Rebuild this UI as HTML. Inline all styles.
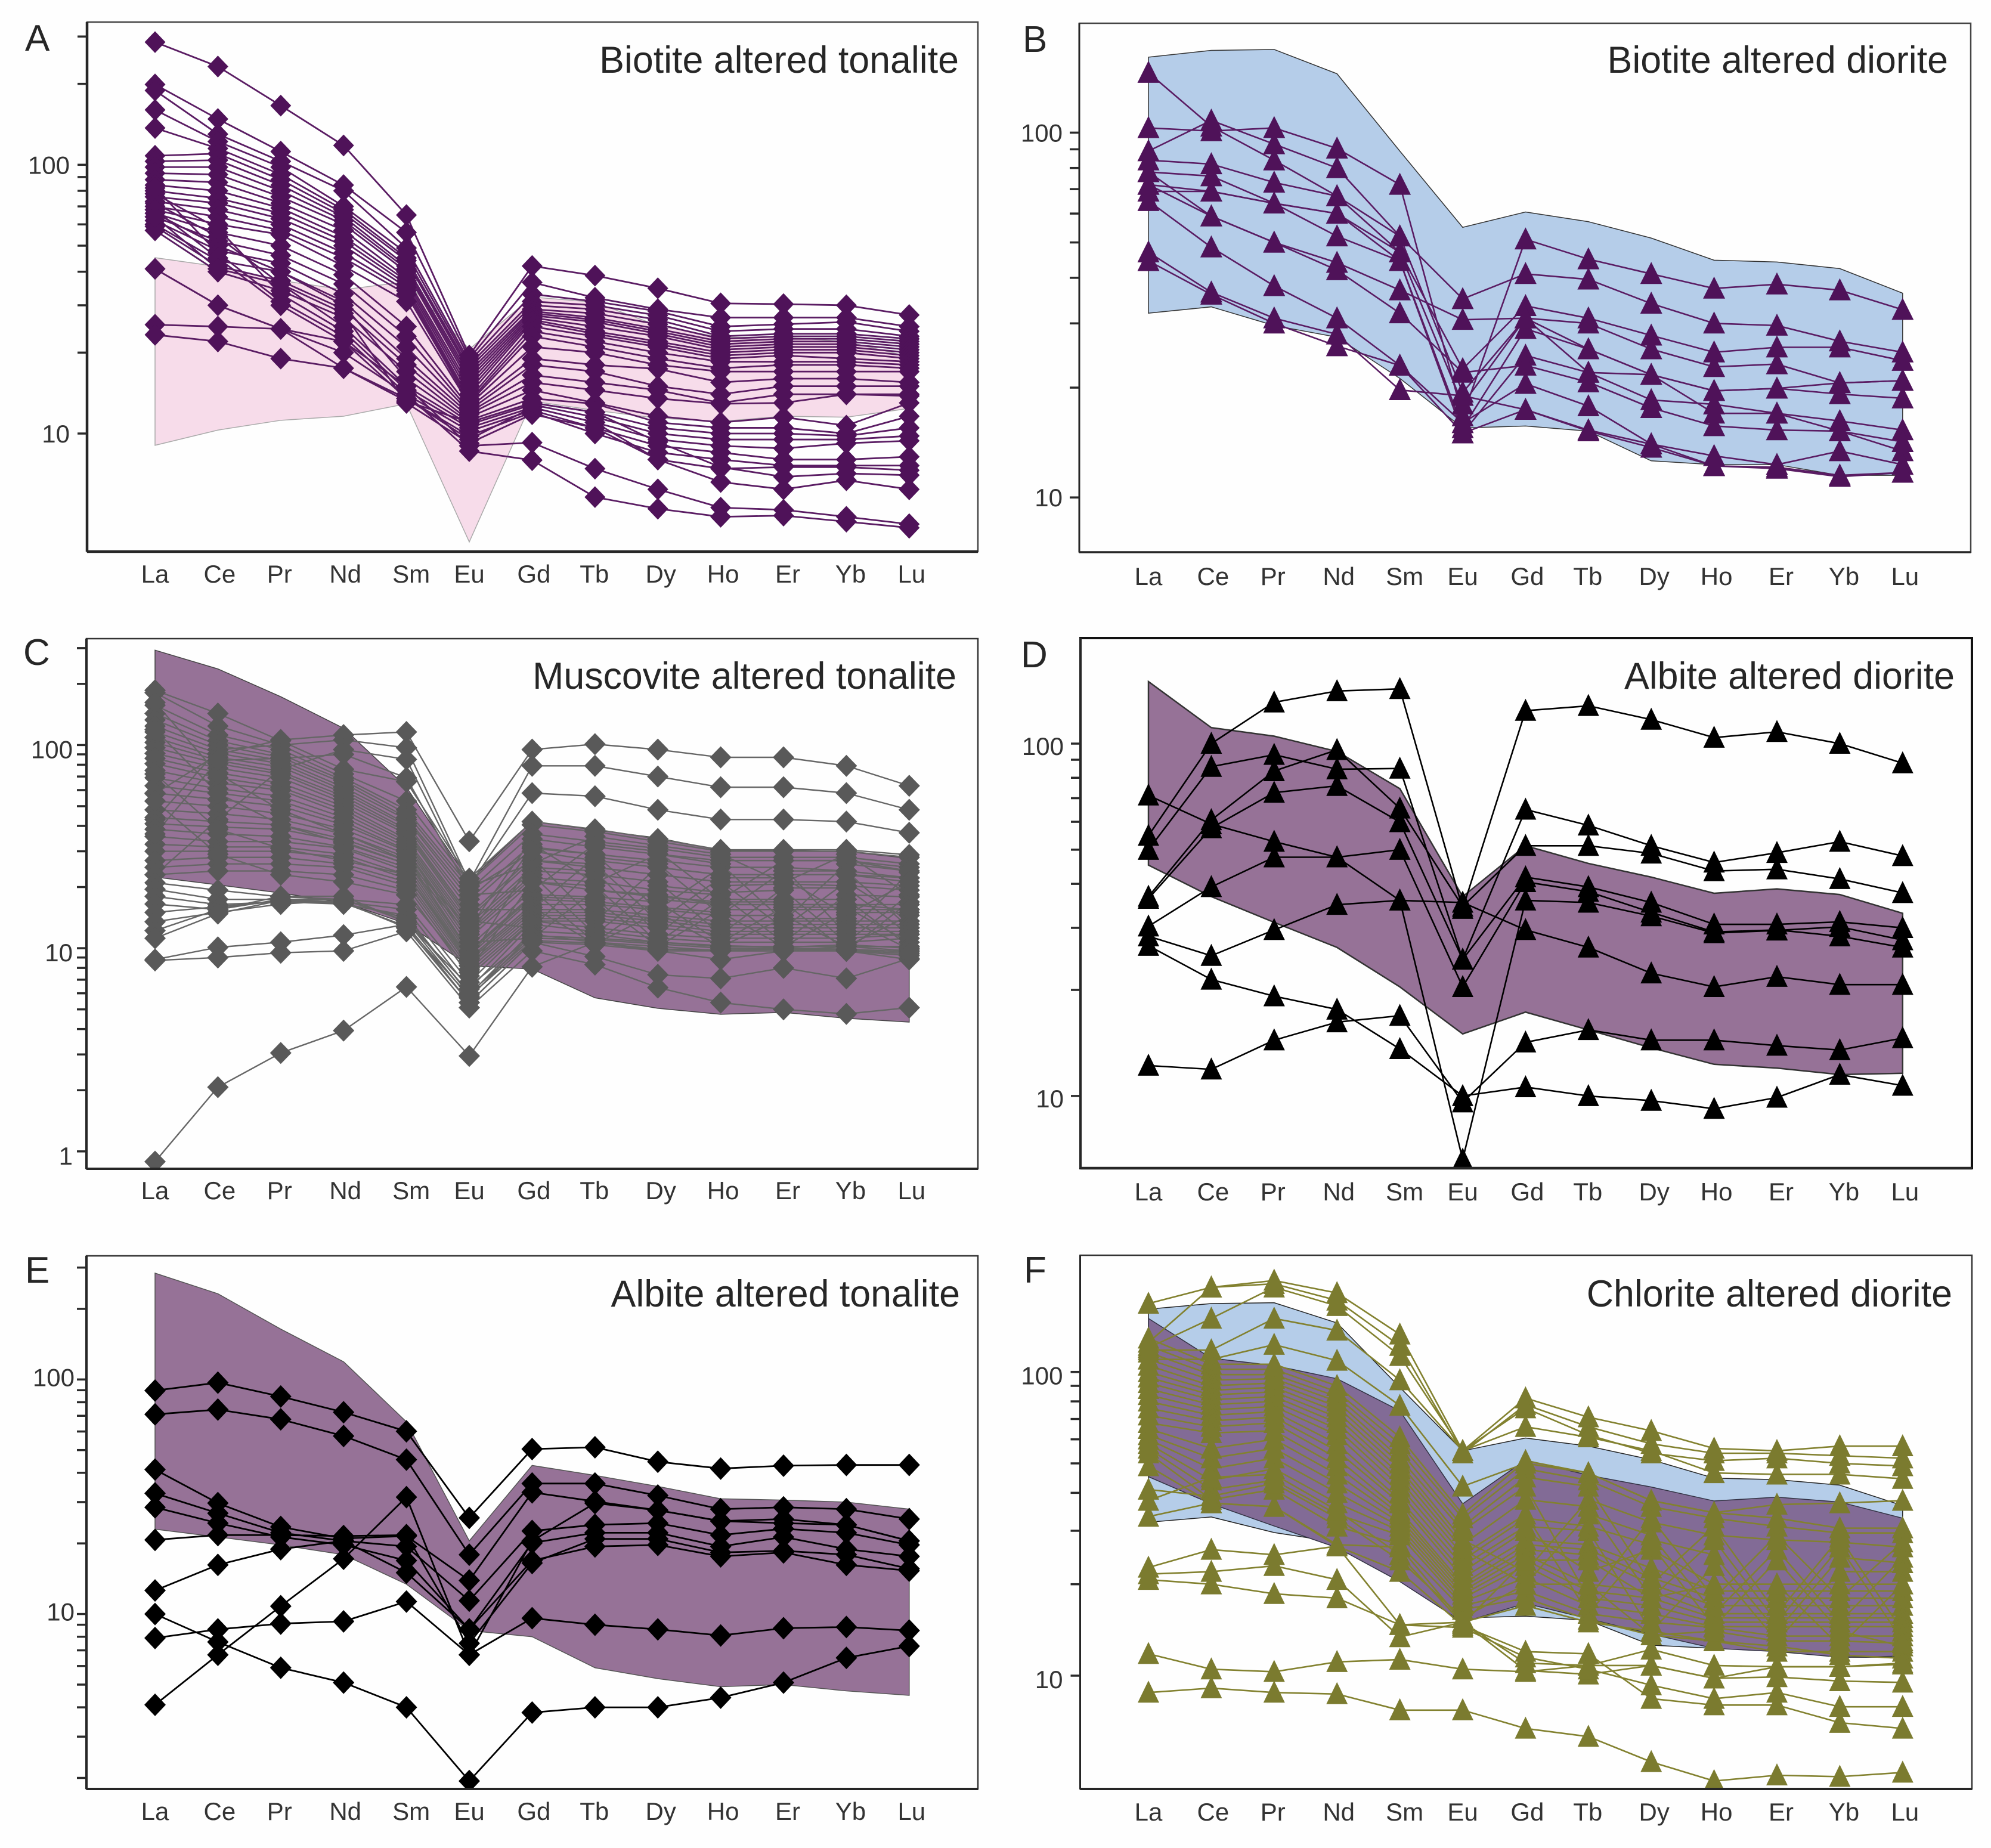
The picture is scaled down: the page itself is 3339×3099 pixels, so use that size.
<!DOCTYPE html>
<html lang="en">
<head>
<meta charset="utf-8">
<title>REE spider diagrams of altered tonalite and diorite</title>
<style>
html,body{margin:0;padding:0;background:#fefefe;}
svg{display:block;font-family:"Liberation Sans",sans-serif;}
</style>
</head>
<body>
<svg id="figure" width="3339" height="3099" viewBox="0 0 3339 3099" xmlns="http://www.w3.org/2000/svg">
<rect x="0" y="0" width="3339" height="3099" fill="#fefefe"/>
<g id="panel-a"></g>
<g id="panel-b"></g>
<g id="panel-c"></g>
<g id="panel-d"></g>
<g id="panel-e"></g>
<g id="panel-f"></g>
<g fill="#262626" font-size="62.7" text-anchor="end">
<text x="1608" y="122">Biotite altered tonalite</text>
<text x="3267" y="122">Biotite altered diorite</text>
<text x="1604" y="1155">Muscovite altered tonalite</text>
<text x="3278" y="1155">Albite altered diorite</text>
<text x="1610" y="2191">Albite altered tonalite</text>
<text x="3274" y="2191">Chlorite altered diorite</text>
</g>
<g fill="#262626" font-size="62">
<text x="42" y="85">A</text>
<text x="1715" y="87">B</text>
<text x="39" y="1115">C</text>
<text x="1712" y="1119">D</text>
<text x="42" y="2151">E</text>
<text x="1717" y="2151">F</text>
</g>
</svg>
<script>
const categories = ['La','Ce','Pr','Nd','Sm','Eu','Gd','Tb','Dy','Ho','Er','Yb','Lu'];

const tickValuesA = [300,200,100,90,80,70,60,50,40,30,20,10];
const tickLabelsA = ['100','10'];
const bandUpperA = [45.1,41.8,37.1,34.3,36.7,20.6,32.2,30.8,25.2,22.8,22.8,22,19.3];
const bandLowerA = [9.04,10.3,11.2,11.6,12.9,3.95,13.2,12.2,11.4,11.1,11.6,11.5,12.4];
const seriesA = [
[286,232,166,118,65,19.5,42,38.7,34.7,30.5,30.3,30,27.6],
[199,148,112,84,56,19,36.5,32,29,27,27,27,25],
[189,130,103,80,49,18.5,33,31,28.5,25,25.5,26,24],
[160,122,98,70,47,18,31,30,27.5,24,24.5,24.5,23],
[137,115,92,68,45,17.5,30,29,26.5,23,23.5,23.5,22.5],
[108,110,88,66,44,17,29,28,25.5,22.5,23,23,22],
[103,104,84,64,42,16.5,28.5,27,24.5,22,22.5,22.5,21.5],
[98,98,80,62,41,16,28,26.5,24,21.5,22,22,21],
[93,92,76,60,40,15.5,27.5,26,23.5,21,21.5,21.5,20.5],
[88,86,72,57,38,15,27,25,23,20.5,21,21,20],
[84,80,69,54,37,14.5,26.5,24,22,20,20.5,20.5,19.5],
[80,75,66,52,36,14,26,23.5,21.5,19.5,20,20,19],
[76,72,63,50,35,13.5,25,23,21,19,19.5,19,18.5],
[73,68,60,47,34,13.2,24,22,20,18.5,18.5,18.5,18],
[70,64,57,45,33,13,23,21,19,17.5,18,18,17.5],
[68,60,55,42,31,12.8,21,20,18,17,17,17,17],
[66,56,50,39,25,12.5,19,18,17.4,15.5,16,16,15.5],
[64,52,46,36,23,12.2,18,17,15,14,15,15,15],
[62,48,43,33,21,12,16.5,15.5,14.5,13,14,14,14],
[60,44,40,31,19,11.8,15.5,14.5,13.5,12.9,13,14,13.8],
[59,42,37,29,18,11.5,14.5,13,11.6,11,11.5,10.7,13],
[57,40,34,27,17,11.2,13.5,12.9,11,10.5,10.5,10,11.6],
[66,50,40,30,16,11,13,12,10.5,10,10,9.8,10.5],
[72,54,36,25,15,10.8,12.8,11.5,10,9.5,9.5,9.5,9.8],
[78,58,33,24,14.5,10.5,12.5,11,9.5,9,8.8,9.2,9.4],
[82,47,31,23,14,10.2,12.2,10.5,9,8.5,8,8,8.2],
[68,45,30,22,13.5,9.8,12,10,8.5,8,7.6,7.6,7.6],
[64,41,36,28,13,9.2,11.8,10.5,8,7.4,7.5,7.5,7.3],
[41,30,24.5,22,15,9,9.25,7.4,6.2,5.3,5.2,4.9,4.6],
[41,30,24.5,20,14,8.6,7.96,5.8,5.25,4.9,4.95,4.7,4.46],
[25.4,25,24.5,17.5,13.5,9.5,12.5,11,8,6.6,6.2,6.7,6.2],
[23.3,22,19,17.5,13.2,11,13,12,9.3,7.5,6.9,7.1,7]
];

const tickValuesB = [100,90,80,70,60,50,40,30,20,10];
const tickLabelsB = ['100','10'];
const bandUpperB = [161,168,169,145,89,55,60.6,57,51.4,44.7,44.2,42.4,36.3];
const bandLowerB = [32,33.3,29.6,27.5,21.2,15.5,15.7,15.2,12.6,12.3,12.3,11.5,11.5];
const seriesB = [
[146,104,84,67,52,19.4,31,25.5,21.7,19.6,19.9,20.6,20.9],
[103,101,103,90.5,72,16.7,51,45,41,37.4,38.4,37,32.7],
[89,108,93,80,52,35,41,39.6,34,30,29.6,26.8,25],
[84,82,73,67,47,22.5,33.5,31,27.8,25,25.8,25.8,23.7],
[78,76,64,60,47,18,31,30,25.5,22.8,23.2,20.6,20.9],
[72,69,64,60,44.5,15.5,29,25.5,21.7,19.6,19.9,19.2,18.7],
[69,69,64,52,44.5,15,24.5,22,18.5,18,17,16.2,15.3],
[72,59,50,44,37,30.7,31,22,21.7,17,17,15.2,14.2],
[78,59,50,42,32,22,23,20.7,17.6,15.7,15.3,15.2,13.4],
[65,48.5,38,31,23,16,20.5,17.8,14,13,12.3,13.4,12.3],
[47,36.5,31,28,19.7,19,17.4,15.3,14,12.2,12.1,11.5,11.7],
[44.5,36,30,26,23,15,17.4,15.2,13.7,12.2,12,11.4,11.7]
];

const tickValuesC = [300,200,100,90,80,70,60,50,40,30,20,10,9,8,7,6,5,4,3,2,1];
const tickLabelsC = ['100','10','1'];
const bandUpperC = [293,237,173,121,62,21.4,42,38.2,34.9,30.3,30.3,29.9,27.7];
const bandLowerC = [22.4,20.5,18.7,16.8,13.2,8.2,7.9,5.7,5.06,4.73,4.83,4.52,4.33];
const seriesC = [
[57.6,90,106,112,116,33.6,95,101,95,87,87,79,63],
[43,95,100,106,97,21.2,79,79,70,62,62,58,48],
[23,43,76,95,85,20.3,58,56,48,43,43,42,37],
[0.89,2.07,3.05,3.93,6.45,2.95,8.1,10.7,9.7,8.8,9.7,9.7,8.8],
[8.8,10.1,10.7,11.6,13.1,5.4,10.7,9.1,7.4,7.1,8,7.1,8.9],
[8.7,9,9.5,9.7,12.1,5.1,9.7,8.3,6.4,5.4,5,4.75,5.1],
[186,143,105,76,66,22,42,38.5,34.5,30.5,30.5,30.5,28.8],
[181,124,100,72,53,21,40.5,37.5,33.5,30,30,30,28],
[157,112,95,69,48,20.2,26,35.5,32,29,21,29,18.3],
[143,105,90,67,46,19.3,36.5,33.5,31,28,28,28,26],
[133,100,87,65,44,18.3,19.3,32.5,30,17.4,27,27,25],
[124,95,84,62,43,17.4,32.5,21,29,26,13.6,26,24],
[116,91,81,60,41,16.4,31,29,15.5,25,25,11.7,23.6],
[109,87,78,58,40,15.5,15.5,28,26,14.6,24,24,12.6],
[103,84,74,56,38.5,14.6,28,13.6,25,23,23,23,22.2],
[97,81,72,54,37.5,14.1,27,26,13.6,22.2,22.2,14.6,21.2],
[91,77,69,52,36.5,13.6,12.6,25,23,21.2,12.6,21.2,13.6],
[86,73,65,50,34.5,13.1,25,24,11.7,20.3,20.7,20.3,19.3],
[81,69,62,48,33.5,12.6,24,23,21.2,11.7,19.8,19.8,11.7],
[75,65,60,46,32.5,12.1,23,11.7,20.3,18.8,19.3,10.7,18.3],
[69,61,56,44,31.5,11.7,22.2,21.2,19.3,18.3,10.7,18.3,17.9],
[63,58,53,42,30.5,11.2,21.2,20.3,10.7,17.4,17.4,17.4,10.2],
[58,54,50,40.5,30,10.7,11.2,19.3,17.9,16.9,16.9,9.7,16.9],
[53,50,46,38.5,29,10.2,19.3,10.7,17.4,16.4,16.4,16.4,16.4],
[48,46,43,36.5,28,9.7,18.3,17.9,16.9,10.7,15.9,15.9,10.7],
[44,42,40.5,34.5,27,9.5,17.9,17.4,10.2,15.5,15.5,15.5,15.5],
[41,39.5,38.5,33.5,26,9.2,17.4,16.9,15.9,15,10.2,15,15],
[38.5,36.5,35.5,31.5,25,8.9,16.4,16.4,15.5,14.5,14.5,10.2,14.5],
[35.5,33.5,33.5,31,24,8.7,15.9,10.5,15,10.2,14,14,9.9],
[32.5,31.5,31.5,29,23,8.4,15.5,15.5,14.5,13.6,13.6,13.6,13.6],
[30,30,30,28,22,8.2,15,15,14,13.1,13.1,13.1,13.1],
[27,28,28,26,21.2,7.9,14.5,14.5,13.6,12.6,12.6,12.6,12.6],
[25,26,26,25,20.3,7.6,14,14,13.1,12.1,12.1,12.1,12.1],
[23,24,24,23,19.3,7.3,13.6,13.6,12.6,11.7,11.7,11.7,11.7],
[21,19.3,17.9,17.4,16.4,6.8,13.6,12.6,11.7,11.2,11.2,11.2,11.7],
[19.5,17.4,17.4,16.9,15.5,6.3,13.1,12.1,11.2,10.7,10.7,10.7,11.2],
[18,16.4,16.9,16.5,14.5,5.9,12.1,11.7,10.7,10.2,10.2,10.2,10.2],
[16.5,15.5,17.4,17.4,13.6,5.7,11.7,10.7,10.2,9.7,9.7,10.2,9.7],
[15,16,17,16.9,12.6,5.4,10.7,10.4,9.7,9.7,9.7,9.7,9.2],
[13.5,15,16.5,17.2,14,6,11.2,11,10.5,10,10,9.9,9.6],
[12.2,15.5,18,18,13.4,6.5,11.5,11.2,10.7,10.3,10.1,10.4,10],
[11.2,14.8,17.2,16.7,12.8,5.8,10.9,10.6,9.9,9.8,9.9,9.8,9.4],
[53,29,23,21.2,18.3,7.8,21.2,19.3,18.3,16.4,16.4,16.4,15.5],
[72,38.5,31,27,23,8.7,27,25,23,21.2,21.2,21.2,20.3],
[119,58,40.5,33,26,11.7,31.5,29,27,25,25,24,22.2],
[162,72,48,36.5,27,12.6,34.5,31.5,29,27,27,27,24],
[36.5,84,86,90,69,19.3,30,27,25,23,23,23,21.2]
];

const tickValuesD = [100,90,80,70,60,50,40,30,20,10];
const tickLabelsD = ['100','10'];
const bandUpperD = [150,111,105,95,74.5,36.8,51.3,45.7,41.8,37.6,38.7,37.3,33];
const bandLowerD = [45.2,36.8,31.1,26.4,20.4,15,17.3,15.4,13.7,12.3,12,11.5,11.6];
const seriesD = [
[54.8,100,131,141,143,34,124,128,117,104,108,100,88],
[50,86,93,84.6,85,24.4,65,58.6,51.3,46,49,52.7,48],
[36.8,60.7,83.6,96,65.5,34.5,51.3,51.3,48.8,43.5,44,41.3,37.7],
[36.3,57.6,72.6,75.9,59.9,24.4,41.8,39.2,35.4,30.7,30.7,31.2,30],
[71.3,59.1,52.7,47.6,50,20.4,40.5,38,33.2,29.2,29.6,28.4,26.4],
[30.3,39.2,47.6,47.6,35.9,6.6,35.9,35.4,32.4,29,29.5,30.2,27.7],
[28.4,25,29.6,34.9,35.9,35.4,29.6,26.4,22.3,20.4,21.8,20.7,20.7],
[26.7,21.4,19.2,17.6,13.6,10,10.6,10,9.7,9.2,9.9,11.5,10.7],
[12.2,11.9,14.4,16.2,16.9,9.6,14.2,15.4,14.4,14.4,13.9,13.5,14.6]
];

const tickValuesE = [300,200,100,90,80,70,60,50,40,30,20,10,9,8,7,6,5,4,3,2];
const tickLabelsE = ['100','10'];
const bandUpperE = [284,232,164,119,66,20.5,43,39,35,31,30.6,30,28];
const bandLowerE = [23,21.3,19.7,17.9,13.4,8.5,8,5.9,5.3,4.9,5,4.7,4.5];
const seriesE = [
[89.7,96.9,84.6,72.5,60.1,25.7,50.5,51.4,44.6,41.7,42.9,43.2,43.2],
[71,74.4,67.6,57.4,45.5,17.9,36,36,32,28,28.5,28,25.4],
[41.3,29.7,23.5,21,21.5,13.9,33,30.2,27.7,24.9,25.4,24,20.5],
[32.7,26.9,22.2,20.5,19.4,11.4,22.6,24,24.4,21.7,23.1,22.2,19.7],
[28.5,24.4,21.3,19.7,16.9,8.6,20.1,22.2,22.2,19.4,21.3,18.9,17.6],
[20.7,21.7,21.7,21.5,21.7,7.5,16.5,20.9,20.9,18.3,18.6,17.9,15.6],
[12.6,16.2,18.9,20.5,15,8.6,16.9,19.4,19.7,17.6,18.3,16.2,15.3],
[7.9,8.6,9.1,9.3,11.3,6.7,9.6,9,8.6,8.1,8.7,8.8,8.5],
[10,7.6,5.9,5.1,4,1.94,3.8,4,4,4.4,5.1,6.5,7.3],
[4.1,6.7,10.8,17.2,31.5,6.7,20.5,29.7,27.7,24.9,24.4,24,20.5]
];

const tickValuesF = [100,90,80,70,60,50,40,30,20,10];
const tickLabelsF = ['100','10'];
const bandOuterUpperF = [161,168,169,145,89,55,60.6,57,51.4,44.7,44.2,42.4,36.3];
const bandOuterLowerF = [32,33.3,29.6,27.5,21.2,15.5,15.7,15.2,12.6,12.3,12.3,11.5,11.5];
const bandUpperF = [150,111,105,95,74.5,36.8,51.3,45.7,41.8,37.6,38.7,37.3,33];
const bandLowerF = [45.2,36.8,31.1,26.4,20.4,15,17.3,15.4,13.7,12.3,12,11.5,11.6];
const seriesF = [
[168,190,200,182,133,55,82,71,64,56,55,57,57],
[125,190,195,172,122,54,78,66,58,54,54,53,52],
[120,150,190,165,113,55,76,62,54,51,52,50,49],
[118,118,150,137,94,55,66,61,55,46.5,46,46,44.5],
[110,110,123,109,77.5,42,50,46.5,37.7,34.4,36.6,37,37.7],
[129,106,106,90,61,34,51,46.5,37.7,34.4,33,30.6,30.6],
[122,102,102,86,58,33,48,44,36,33,31,29.5,29.5],
[116,98,98,83,55,31,45,42,20,31,16,28.5,14],
[110,94,95,80,52,30,42,18,33,18,29,18,27.5],
[105,90,92,77,50,28,22,38,32,29,28,27.5,26.5],
[100,87,89,74,48,27,38,36,18,28,15,26.5,13],
[96,84,86,71,46,26,20,34,29,16,26,15,24.5],
[92,81,83,68,44,25,34,16,28,25,14,24.5,23.5],
[88,78,80,65,42,24,33,31,27,14.5,24,14,12.5],
[84,75,77,62,40,23,31,30,14,23,13,22,22],
[80,72,74,58,38,22,30,22,26,20,20,12.5,20],
[76,69,71,55,37,21,28,27,22.6,19,19,19,19],
[72,66,68,52,35,20,27,26,21,18,18,18,18],
[68,63,64,49,34,19.5,26,25,20,17,17,17,17],
[65,56,60,46,33,19,25,20,19,16,16,16,16],
[62,52,56,43,32,18.5,24,19,18,15.5,15.5,15.5,15.5],
[60,48,52,40,31,18,23,18,17,15,15,15,15],
[58,44,48,37,30,17.5,21,17,16,14.5,14.5,14.5,14.5],
[56,41,44,34,29,17,19,16,15,14.4,13.5,13.5,13.5],
[54,38,41,31,27,16.5,18,15.3,13.6,13,12,12,12],
[49,37,36,27,26.5,15,17,15,14,13,12.5,11.7,11.4],
[41,39,43,33,24,15.5,20,20,13.6,14,13,13,12.8],
[37.7,45,46,35,25,14.8,24,24,18,20,20,20,20],
[22.7,26,25,26.7,14.7,15,11,10.8,12.2,10.8,10.7,10.7,10.9],
[21.6,22,23,20.7,13.4,15,10.4,10.1,10.8,9.8,9.9,9.6,9.5],
[20.7,20,18.6,18,14.7,14.4,11.5,10.5,9.3,8.4,8.8,7.9,7.9],
[33.4,37,36,26.7,22,14.6,12,11.8,8.4,8,8,7,6.7],
[11.8,10.5,10.3,11.1,11.3,10.5,10.3,10.8,10.8,9.8,10.7,10.7,11],
[8.8,9.1,8.8,8.7,7.7,7.7,6.7,6.3,5.2,4.5,4.7,4.65,4.8]
];

const SVGNS = 'http://www.w3.org/2000/svg';

function mk(parent, tag, attrs) {
  const el = document.createElementNS(SVGNS, tag);
  for (const k in attrs) el.setAttribute(k, attrs[k]);
  parent.appendChild(el);
  return el;
}

function drawPanel(p) {
  const root = document.getElementById(p.id);
  const xScale = i => p.x0 + i * p.step;
  const yScale = v => p.y100 + (2 - Math.log10(v)) * p.decade;
  const nudge = [0,3,-2,3,8,0,3,-1,5,4,7,7,4];

  const clip = mk(root, 'clipPath', {id: p.id + '-clip'});
  
  
  mk(clip, 'rect', {x: p.left, y: p.top, width: p.right - p.left, height: p.bottom - p.top});

  const bandPath = (up, lo) => up.map((v, i) => xScale(i) + ',' + yScale(v)).concat(
    lo.map((v, i) => xScale(i) + ',' + yScale(v)).reverse()).join(' ');

  p.bands.forEach(b => {
    const band = mk(root, 'polygon', {points: bandPath(b.upper, b.lower), fill: b.fill, stroke: b.stroke, 'stroke-width': b.sw});
    
    
  });

  const plot = mk(root, 'g', {'clip-path': 'url(#' + p.id + '-clip)'});
  
  

  p.series.forEach(row => {
    const line = mk(plot, 'polyline', {
      points: row.map((v, i) => xScale(i) + ',' + yScale(v)).join(' '),
      fill: 'none', stroke: p.lineColor, 'stroke-width': p.lw, 'stroke-linejoin': 'round'
    });
    
    
  });

  p.series.forEach(row => {
    row.forEach((v, i) => {
      const cx = xScale(i), cy = yScale(v);
      const pts = p.marker === 'diamond'
        ? [[cx, cy - p.mh], [cx + p.mw, cy], [cx, cy + p.mh], [cx - p.mw, cy]]
        : [[cx, cy - p.mh], [cx + p.mw, cy + p.mb], [cx - p.mw, cy + p.mb]];
      const mark = mk(plot, 'polygon', {points: pts.map(q => q.join(',')).join(' '), fill: p.markColor});
      
      
    });
  });

  const frame = mk(root, 'rect', {x: p.left, y: p.top, width: p.right - p.left, height: p.bottom - p.top, fill: 'none', stroke: p.frameColor, 'stroke-width': p.frameW});
  
  

  const xaxis = mk(root, 'line', {x1: p.left, x2: p.right, y1: p.bottom, y2: p.bottom, stroke: '#262626', 'stroke-width': p.baseW});
  
  

  const yaxis = mk(root, 'line', {x1: p.left, x2: p.left, y1: p.top, y2: p.bottom, stroke: '#262626', 'stroke-width': p.axisW});
  
  

  p.ticks.forEach(v => {
    const label = p.tickLabels.indexOf(String(v)) >= 0;
    const y = yScale(v);
    const tick = mk(root, 'line', {x1: p.left - 16, x2: p.left, y1: y, y2: y, stroke: '#2a2a2a', 'stroke-width': 3.5});
    
    
    if (label) {
      const t = mk(root, 'text', {x: p.left - p.tickGap, y: y + 15 + p.labelDy, 'text-anchor': 'end', 'font-size': 42, fill: '#333'});
      t.textContent = String(v);
      
      
    }
  });

  categories.forEach((c, i) => {
    const t = mk(root, 'text', {x: xScale(i) + nudge[i], y: p.labelY, 'text-anchor': 'middle', 'font-size': 42, fill: '#333'});
    t.textContent = c;
    
    
  });
}

const PURPLE = '#4f1259';
drawPanel({id:'panel-a', left:146, right:1640, top:37, bottom:925, x0:260, step:105.4, y100:276.3, decade:450.7,
  series:seriesA, ticks:tickValuesA, tickLabels:tickLabelsA,
  bands:[{upper:bandUpperA, lower:bandLowerA, fill:'#f7dcea', stroke:'#aaa', sw:1.5}],
  marker:'diamond', mw:17.5, mh:18.3, lineColor:'#5a1c63', markColor:PURPLE, lw:2.8,
  frameColor:'#444', frameW:2.5, baseW:4.5, axisW:4.5, tickGap:29, labelDy:0, labelY:977});
drawPanel({id:'panel-b', left:1810, right:3305, top:39, bottom:926, x0:1926, step:105.4, y100:222.4, decade:611.8,
  series:seriesB, ticks:tickValuesB, tickLabels:tickLabelsB,
  bands:[{upper:bandUpperB, lower:bandLowerB, fill:'#b5cde9', stroke:'#333', sw:1.5}],
  marker:'triangle', mw:18.5, mh:20, mb:17, lineColor:'#5a1c63', markColor:PURPLE, lw:2.6,
  frameColor:'#444', frameW:2.5, baseW:3.5, axisW:3, tickGap:28, labelDy:0, labelY:981});
drawPanel({id:'panel-c', left:145, right:1640, top:1071, bottom:1960, x0:260, step:105.4, y100:1249.4, decade:340.7,
  series:seriesC, ticks:tickValuesC, tickLabels:tickLabelsC,
  bands:[{upper:bandUpperC, lower:bandLowerC, fill:'#967297', stroke:'#444', sw:1.5}],
  marker:'diamond', mw:18, mh:18.5, lineColor:'#666', markColor:'#595959', lw:2.4,
  frameColor:'#333', frameW:2.5, baseW:4, axisW:4, tickGap:23, labelDy:7, labelY:2011});
drawPanel({id:'panel-d', left:1812, right:3307, top:1070, bottom:1959, x0:1926, step:105.4, y100:1247, decade:590.9,
  series:seriesD, ticks:tickValuesD, tickLabels:tickLabelsD,
  bands:[{upper:bandUpperD, lower:bandLowerD, fill:'#967297', stroke:'#333', sw:2.5}],
  marker:'triangle', mw:18, mh:20, mb:17, lineColor:'#000', markColor:'#000', lw:2.6,
  frameColor:'#111', frameW:4, baseW:4.5, axisW:4, tickGap:28, labelDy:4, labelY:2013});
drawPanel({id:'panel-e', left:145, right:1640, top:2106, bottom:3000, x0:260, step:105.4, y100:2313.3, decade:393.3,
  series:seriesE, ticks:tickValuesE, tickLabels:tickLabelsE,
  bands:[{upper:bandUpperE, lower:bandLowerE, fill:'#967297', stroke:'#555', sw:1.5}],
  marker:'diamond', mw:18, mh:19, lineColor:'#000', markColor:'#000', lw:2.8,
  frameColor:'#333', frameW:2.5, baseW:4, axisW:4, tickGap:20, labelDy:-4, labelY:3052});
drawPanel({id:'panel-f', left:1811.5, right:3307, top:2105, bottom:3000, x0:1926, step:105.4, y100:2300.7, decade:509.3,
  series:seriesF, ticks:tickValuesF, tickLabels:tickLabelsF,
  bands:[{upper:bandOuterUpperF, lower:bandOuterLowerF, fill:'#b5cde9', stroke:'#222', sw:1.5},
         {upper:bandUpperF, lower:bandLowerF, fill:'#826b96', stroke:'#334', sw:1.5}],
  marker:'triangle', mw:18, mh:20, mb:17, lineColor:'#82812f', markColor:'#7b7b2f', lw:2.6,
  frameColor:'#333', frameW:2.5, baseW:4, axisW:3, tickGap:29, labelDy:6, labelY:3053});
</script>
</body>
</html>
